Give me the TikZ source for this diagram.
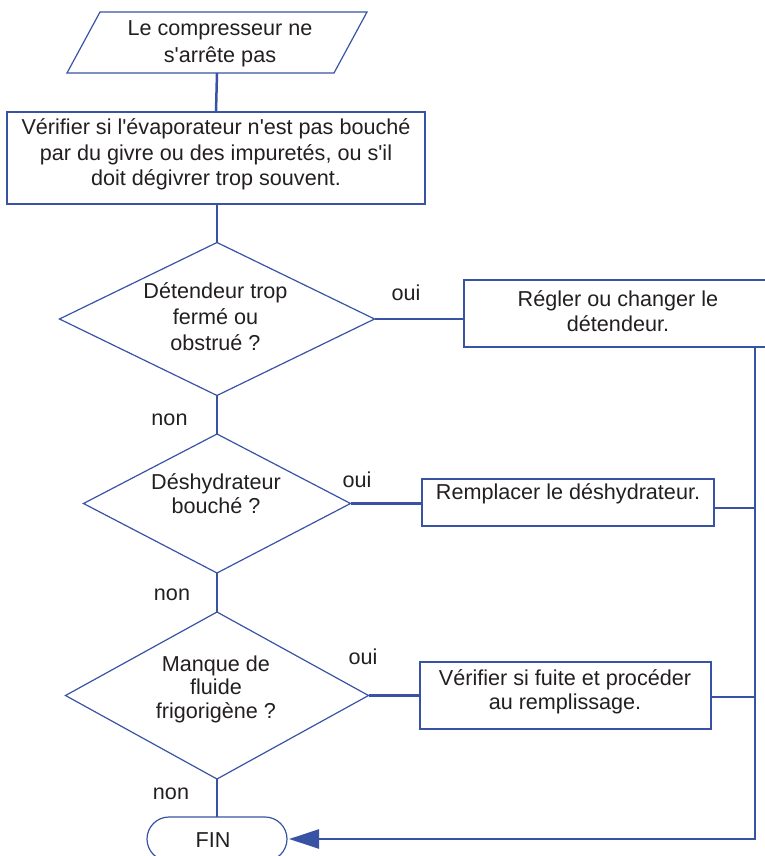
\documentclass[tikz,border=0pt]{standalone}
\usepackage{fontspec}
\setmainfont{Liberation Sans}[Ligatures=TeXOff]
\usetikzlibrary{shapes.geometric,shapes.misc,arrows.meta}
\definecolor{flowblue}{RGB}{57,83,164}
\definecolor{ink}{RGB}{35,31,32}
% invisible strut fixing the height of the first text line
\newcommand\tstrut{\rule{0pt}{18pt}}

\begin{document}
\begin{tikzpicture}[x=1pt,y=-1pt,
  txt/.style={inner sep=0pt, outer sep=0pt, align=center, text=ink, anchor=north,
              font={\fontsize{21.6}{#1}\selectfont}},
  txt/.default=26,
  boxline/.style={draw=flowblue, line width=2.4pt},
  thinline/.style={draw=flowblue, line width=1.2pt},
  procbox/.style={rectangle, boxline, inner sep=0pt, outer sep=0pt},
  decision/.style={diamond, thinline, inner sep=0pt, outer sep=0pt},
  link/.style={draw=flowblue, line width=2.5pt},
  lbl/.style={anchor=base, inner sep=0pt, text=ink, font={\fontsize{21.6}{26}\selectfont}},
]
\useasboundingbox (0,0) rectangle (765,856);
\clip (0,0) rectangle (765,856);

% start: parallelogram around an invisible frame node
\node[minimum width=267pt, minimum height=61pt, inner sep=0pt, outer sep=0pt] (start) at (217,42.5) {};
\draw[thinline] ([xshift=-16.5pt]start.south west) -- ([xshift=-16.5pt]start.south east)
  -- ([xshift=16.5pt]start.north east) -- ([xshift=16.5pt]start.north west) -- cycle;
\node[txt=26.7] (startt) at (220,18) {\tstrut Le compresseur ne\\s'arrête pas};

% first check
\node[procbox, minimum width=418pt, minimum height=92pt] (proc) at (216,158) {};
\node[txt=25.5] (proct) at (216,116.5) {\tstrut Vérifier si l'évaporateur n'est pas bouché\\par du givre ou des impuretés, ou s'il\\doit dégivrer trop souvent.};

% decisions
\node[decision, minimum width=315pt, minimum height=153pt] (d1) at (217,319) {};
\node[txt=26] (d1t) at (215.5,280.3) {\tstrut Détendeur trop\\fermé ou\\obstrué ?};

\node[decision, minimum width=267pt, minimum height=139pt] (d2) at (217,503.5) {};
\node[txt=24] (d2t) at (216,471) {\tstrut Déshydrateur\\bouché ?};

\node[decision, minimum width=303pt, minimum height=167pt] (d3) at (217,695.5) {};
\node[txt=23.5] (d3t) at (216,653) {\tstrut Manque de\\fluide\\frigorigène ?};

% actions
\node[procbox, minimum width=308pt, minimum height=67pt] (r1) at (618,313.5) {};
\node[txt=24.3] (r1t) at (618,288.7) {\tstrut Régler ou changer le\\détendeur.};

\node[procbox, minimum width=292pt, minimum height=47pt] (r2) at (568,502.5) {};
\node[txt] (r2t) at (568,481.3) {\tstrut Remplacer le déshydrateur.};

\node[procbox, minimum width=291pt, minimum height=67pt] (r3) at (565.5,695.5) {};
\node[txt=24] (r3t) at (565,667) {\tstrut Vérifier si fuite et procéder\\au remplissage.};

% end
\node[rounded rectangle, thinline, minimum width=140pt, minimum height=44pt, inner sep=0pt, outer sep=0pt] (fin) at (217,839) {};
\node[lbl] (fint) at (213,847) {FIN};

% branch labels
\node[lbl] (oui1) at (406,300.7) {oui};
\node[lbl] (non1) at (169.5,425) {non};
\node[lbl] (oui2) at (357,487) {oui};
\node[lbl] (non2) at (172,600) {non};
\node[lbl] (oui3) at (363,664) {oui};
\node[lbl] (non3) at (171,799) {non};

% main flow
\draw[link] (start.south) -- (proc.north);
\draw[link] (proc.south -| d1.north) -- (d1.north);
\draw[link] (d1.south) -- (d2.north);
\draw[link] (d2.south) -- (d3.north);
\draw[link] (d3.south) -- (fin.north);
\draw[link] (d1.east) -- (d1.east -| r1.west);
\draw[link] (d2.east) -- (d2.east -| r2.west);
\draw[link] (d3.east) -- (d3.east -| r3.west);

% return bus to the end
\coordinate (bus) at (755,839);
\draw[link] ([yshift=-5.5pt]r2.east) -- ([yshift=-5.5pt]r2.east -| bus);
\draw[link] ([yshift=-1.5pt]r3.east) -- ([yshift=-1.5pt]r3.east -| bus);
\draw[link, -{Triangle[length=30pt,width=19pt]}] (r1.south -| bus) -- (bus) -- ([xshift=2pt]fin.east);
\end{tikzpicture}
\end{document}
